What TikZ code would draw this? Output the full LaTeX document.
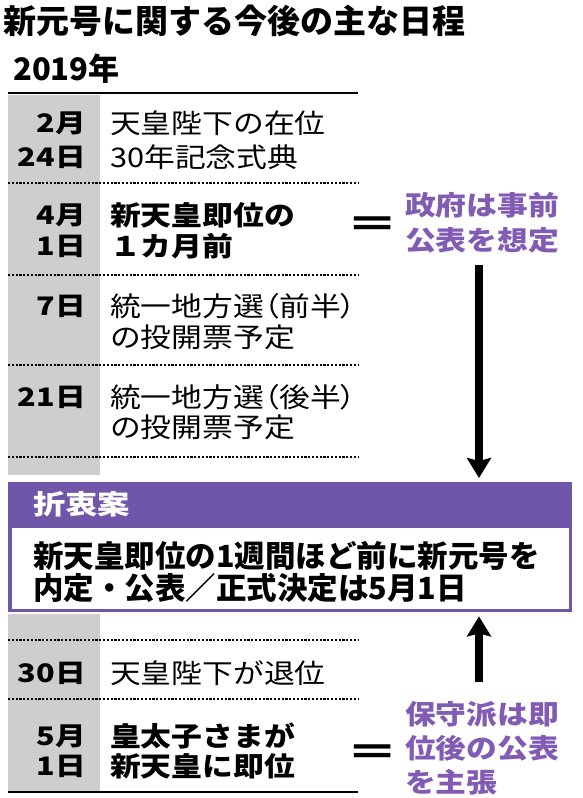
\documentclass[tikz,border=0pt]{standalone}
\usepackage{fontspec}
\newfontfamily\jpfont{Noto Sans CJK JP}
\newfontfamily\jpflat{Noto Sans CJK JP}[FakeStretch=1.2]
\newfontfamily\jpwide{Noto Sans CJK JP}[FakeStretch=1.14]
\newcommand\pp[1]{{\addfontfeatures{RawFeature=+palt}#1}}
\usetikzlibrary{arrows.meta}
\definecolor{boxpurple}{RGB}{112,86,168}
\definecolor{labpurple}{RGB}{130,92,180}
\definecolor{graycol}{RGB}{206,206,206}
\begin{document}
\begin{tikzpicture}[x=1pt,y=-1pt,
  lbl/.style={inner sep=0pt, text height=22pt, text depth=3pt},
  lblw/.style={inner sep=0pt, text height=23.5pt, text depth=3pt},
  datelbl/.style={lbl, anchor=east, font=\jpflat\bfseries\fontsize{25.5}{25.5}\selectfont},
  rowtxt/.style={lblw, anchor=west, font=\jpwide\fontsize{27}{27}\selectfont},
  rowbold/.style={lblw, anchor=west, font=\jpwide\bfseries\fontsize{27}{27}\selectfont},
  sidelbl/.style={lblw, anchor=west, text=labpurple, font=\jpwide\bfseries\fontsize{27}{27}\selectfont},
  boxtxt/.style={inner sep=0pt, text height=27pt, text depth=4pt, anchor=west, font=\jpfont\bfseries\fontsize{30.5}{30.5}\selectfont},
  eqsign/.style={inner sep=0pt, font=\jpfont\bfseries\fontsize{36}{36}\selectfont, xscale=1.45},
  rule/.style={line width=2pt},
  sepline/.style={line width=1.3pt, dash pattern=on 2.2pt off 1.6pt},
  bigarrow/.style={line width=8pt, -{Stealth[length=20pt,width=24pt,inset=3pt]}}
]
\useasboundingbox (0,0) rectangle (582,798);
\fill[white] (0,0) rectangle (582,798);

% title
\node[inner sep=0pt, text height=29pt, text depth=4pt, anchor=west,
      font=\jpfont\bfseries\fontsize{33}{33}\selectfont] (title) at (3,21) {新元号に関する今後の主な日程};
\node[inner sep=0pt, text height=29pt, text depth=4pt, anchor=west,
      font=\jpfont\bfseries\fontsize{31}{31}\selectfont] (year) at (13,68) {2019年};

% gray date column
\fill[graycol] (8,95) rectangle (100,475);
\fill[graycol] (8,614) rectangle (100,792);

% rules
\draw[rule] (8,93) -- (358,93);
\draw[rule] (8,792) -- (358,792);
\foreach \yy in {183,275,365,457,640,699} \draw[sepline] (8,\yy) -- (358,\yy);

% rows
\node[datelbl] (d1a) at (86,123) {2月};
\node[datelbl] (d1b) at (86,157) {24日};
\node[rowtxt] (t1a) at (110,123) {天皇陛下の在位};
\node[rowtxt] (t1b) at (110,157) {30年記念式典};

\node[datelbl] (d2a) at (86,215) {4月};
\node[datelbl] (d2b) at (86,246) {1日};
\node[rowbold] (t2a) at (110,215) {新天皇即位の};
\node[rowbold] (t2b) at (110,246) {１カ月前};

\node[datelbl] (d3) at (86,306) {7日};
\node[rowtxt] (t3a) at (110,306) {統一地方選\pp{（}前半\pp{）}};
\node[rowtxt] (t3b) at (110,337) {の投開票予定};

\node[datelbl] (d4) at (86,397) {21日};
\node[rowtxt] (t4a) at (110,397) {統一地方選\pp{（}後半\pp{）}};
\node[rowtxt] (t4b) at (110,427) {の投開票予定};

\node[datelbl] (d5) at (86,673) {30日};
\node[rowtxt] (t5) at (110,673) {天皇陛下が退位};

\node[datelbl] (d6a) at (86,736) {5月};
\node[datelbl] (d6b) at (86,766) {1日};
\node[rowbold] (t6a) at (110,736) {皇太子さまが};
\node[rowbold] (t6b) at (110,766) {新天皇に即位};

% compromise box
\node[fill=boxpurple, inner sep=0pt, minimum width=564pt, minimum height=130pt, anchor=north west] (box) at (8,482) {};
\fill[white] (11.5,528) rectangle (568.5,608.5);
\node[lbl, anchor=west, text=white, font=\jpflat\bfseries\fontsize{27}{27}\selectfont] (hdr) at (33,505) {折衷案};
\node[boxtxt] (bx1) at (33,556) {新天皇即位の1週間ほど前に新元号を};
\node[boxtxt] (bx2) at (33,588) {内定・公表／正式決定は5月1日};

% side notes
\node[eqsign] (eq1) at (372.5,227) {＝};
\node[sidelbl] (sa1) at (405,205) {政府は事前};
\node[sidelbl] (sa2) at (405,240) {公表を想定};

\node[eqsign] (eq2) at (373,755) {＝};
\node[sidelbl] (sb1) at (405,714) {保守派は即};
\node[sidelbl] (sb2) at (405,748) {位後の公表};
\node[sidelbl] (sb3) at (405,782) {を主張};

% arrows
\coordinate (aTop) at (479,265);
\coordinate (aBot) at (479,682);
\draw[bigarrow, shorten >=4pt] (aTop) -- (box.north -| aTop);
\draw[bigarrow, shorten >=4pt] (aBot) -- (box.south -| aBot);
\end{tikzpicture}
\end{document}
